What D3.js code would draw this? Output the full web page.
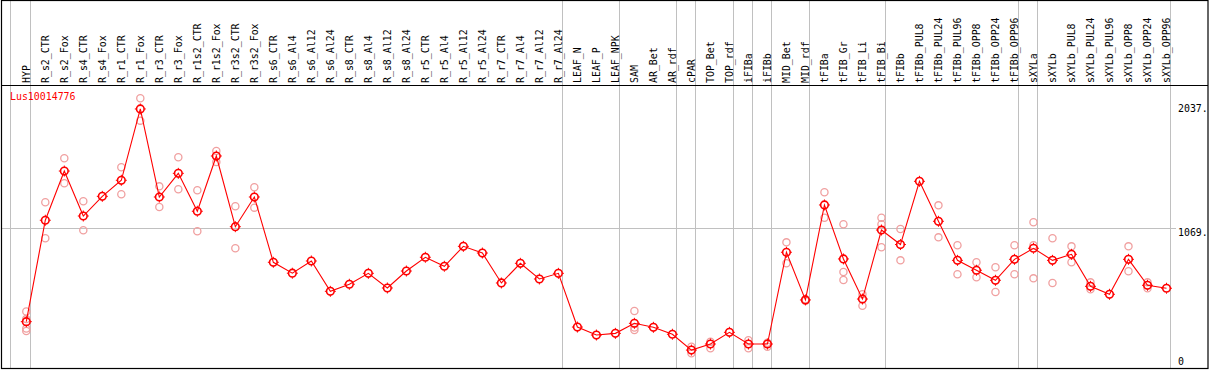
<!DOCTYPE html>
<html><head><meta charset="utf-8">
<script src="https://cdnjs.cloudflare.com/ajax/libs/d3/7.8.5/d3.min.js"></script>
<style>html,body{margin:0;padding:0;background:#fff;}svg{display:block;}</style>
</head><body><svg id="c" width="1209" height="370"></svg>
<script>
const categories = ["HYP","R_s2_CTR","R_s2_Fox","R_s4_CTR","R_s4_Fox","R_r1_CTR","R_r1_Fox","R_r3_CTR","R_r3_Fox","R_r1s2_CTR","R_r1s2_Fox","R_r3s2_CTR","R_r3s2_Fox","R_s6_CTR","R_s6_Al4","R_s6_Al12","R_s6_Al24","R_s8_CTR","R_s8_Al4","R_s8_Al12","R_s8_Al24","R_r5_CTR","R_r5_Al4","R_r5_Al12","R_r5_Al24","R_r7_CTR","R_r7_Al4","R_r7_Al12","R_r7_Al24","LEAF_N","LEAF_P","LEAF_NPK","SAM","AR_Bet","AR_rdf","cPAR","TOP_Bet","TOP_rdf","iFIBa","iFIBb","MID_Bet","MID_rdf","tFIBa","tFIB_Gr","tFIB_Li","tFIB_Bi","tFIBb","tFIBb_PUL8","tFIBb_PUL24","tFIBb_PUL96","tFIBb_OPP8","tFIBb_OPP24","tFIBb_OPP96","sXYLa","sXYLb","sXYLb_PUL8","sXYLb_PUL24","sXYLb_PUL96","sXYLb_OPP8","sXYLb_OPP24","sXYLb_OPP96"];
const means = [338,1127,1510,1160,1313,1438,1993,1308,1492,1197,1627,1077,1308,800,715,810,574,629,714,600,732,839,769,924,872,639,792,670,714,296,234,247,325,294,240,117,164,255,164,164,878,507,1246,826,514,1051,938,1430,1119,815,738,660,823,909,815,862,613,551,823,621,598];
const replicates = [[417,358,284,265],[1267,987],[1609,1415],[1275,1049],[],[1539,1329],[2076,1902],[1391,1230],[1617,1368],[1360,1041],[1666,1580],[1236,909],[1384,1225],[],[],[],[],[],[],[],[],[],[],[],[],[],[],[],[],[],[],[],[421,292,273],[],[],[143,92],[182,131],[],[193,131],[174,143],[955,792],[512,501],[1345,1147],[1096,724,662],[551,462],[1147,1096,917],[1059,815],[],[1243,994],[932,707],[800,683],[761,569],[932,707],[1111,932,675],[987,639],[924,800],[644,590],[],[924,730],[644,598],[]];
const separatorsAfter = ["HYP","R_r7_Al24","LEAF_NPK","AR_rdf","cPAR","TOP_rdf","iFIBa","iFIBb","MID_rdf","tFIB_Bi","tFIBb_OPP96","sXYLa","sXYLb_OPP96"];
const yTicks = [0,1069,2037];
const gridValues = [1069];
const geneName = "Lus10014776";

const svg = d3.select("#c");
const font = "'DejaVu Sans Mono', 'Liberation Mono', monospace";
const FS = 11, SX = 0.9;
const x = d3.scalePoint().domain(categories).range([26.3, 1166.5]);
const y = d3.scaleLinear().domain([0, 2037]).range([365.1, 103.3]);

// separators
const sepX = [x(categories[0]) - 15.6].concat(separatorsAfter.map(c => x(c) + 4.4));
svg.selectAll("line.sep").data(sepX).enter().append("line")
  .attr("x1", d => d).attr("x2", d => d).attr("y1", 0).attr("y2", 368)
  .attr("stroke", "#c0c0c0").attr("stroke-width", 1).attr("shape-rendering","crispEdges");

// grid
svg.selectAll("line.grid").data(gridValues).enter().append("line")
  .attr("x1", 1.5).attr("x2", 1176).attr("y1", d => Math.round(y(d))+0.5).attr("y2", d => Math.round(y(d))+0.5)
  .attr("stroke", "#c0c0c0").attr("stroke-width", 1);

// frame
svg.append("rect").attr("x", 1.5).attr("y", 0.5).attr("width", 1206.5).attr("height", 368)
  .attr("fill","none").attr("stroke","#000").attr("stroke-width",1.2);
svg.append("line").attr("x1",1.5).attr("x2",1208).attr("y1",85.5).attr("y2",85.5)
  .attr("stroke","#000").attr("stroke-width",1.2);

// category labels
svg.selectAll("text.cat").data(categories).enter().append("text")
  .attr("transform", d => `translate(${x(d)+3.8},83) rotate(-90) scale(${SX},1)`)
  .attr("font-family", font).attr("font-size", FS).attr("fill","#000")
  .text(d => d);

// y tick labels
svg.selectAll("text.yt").data(yTicks).enter().append("text")
  .attr("transform", d => `translate(1178,${d === 0 ? y(d) : y(d) + 8.2}) scale(${SX},1)`)
  .attr("font-family", font).attr("font-size", FS).attr("fill","#000")
  .text(d => d === 0 ? "0" : d + ".");

// gene name
svg.append("text").attr("transform", `translate(10,99.5) scale(${SX},1)`)
  .attr("font-family", font).attr("font-size", FS)
  .attr("fill", "#ff0000").text(geneName);

// replicate points
const repPts = [];
categories.forEach((c, i) => replicates[i].forEach(v => repPts.push({c, v})));
svg.selectAll("circle.rep").data(repPts).enter().append("circle")
  .attr("cx", d => x(d.c)).attr("cy", d => y(d.v)).attr("r", 3.6)
  .attr("fill","none").attr("stroke","#f0a0a0").attr("stroke-width",1.3);

// mean line
const line = d3.line().x((d,i) => x(categories[i])).y(d => y(d));
svg.append("path").datum(means).attr("d", line).attr("fill","none")
  .attr("stroke","#ff0000").attr("stroke-width",1.1);

// mean markers
const mg = svg.selectAll("g.mean").data(means).enter().append("g")
  .attr("transform", (d,i) => `translate(${x(categories[i])},${y(d)})`);
mg.append("circle").attr("r", 3.8).attr("fill","none").attr("stroke","#ff0000").attr("stroke-width",1.6);
mg.append("path").attr("d","M0,-5.5V-4M0,4V5.5M-5.5,0H-4M4,0H5.5")
  .attr("stroke","#ff0000").attr("stroke-width",1);
</script></body></html>
